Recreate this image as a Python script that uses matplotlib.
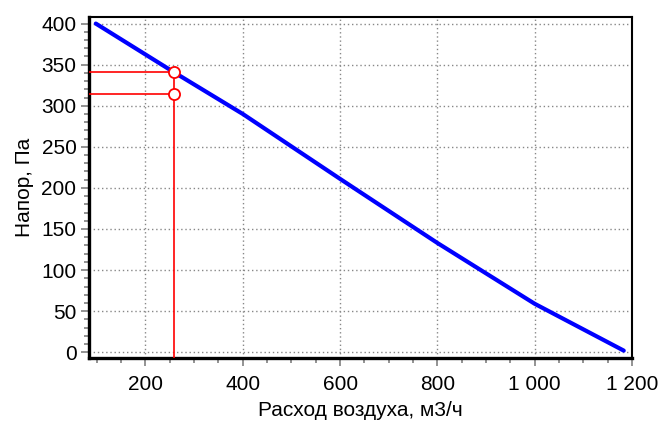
import matplotlib
matplotlib.use("Agg")
import matplotlib.pyplot as plt
from matplotlib.ticker import MultipleLocator, FuncFormatter

plt.rcParams["font.family"] = ["Liberation Sans", "DejaVu Sans"]

# характеристика вентилятора
расход = [98, 258, 400, 600, 800, 1000, 1183]
напор = [400, 341, 290, 211, 133, 59, 2]

# рабочая точка
точка_расход = 258
точка_напор_верх = 341
точка_напор_низ = 314

fig = plt.figure(figsize=(6.58, 4.21), dpi=100)
ax = fig.add_axes([89 / 658, 1 - 358 / 421, (632 - 89) / 658, (358 - 17) / 421])

xmin, xmax = 84, 1200
ymin, ymax = -7, 408
ax.set_xlim(xmin, xmax)
ax.set_ylim(ymin, ymax)

ax.plot(расход, напор, color="#0000ff", linewidth=3, solid_capstyle="round", zorder=3)

# красные линии рабочей точки
red = "#ff0000"
ax.plot([xmin, точка_расход], [точка_напор_верх, точка_напор_верх], color=red, lw=1.2, zorder=4)
ax.plot([xmin, точка_расход], [точка_напор_низ, точка_напор_низ], color=red, lw=1.2, zorder=4)
ax.plot([точка_расход, точка_расход], [ymin, точка_напор_верх], color=red, lw=1.2, zorder=4)
ax.plot([точка_расход, точка_расход], [точка_напор_верх, точка_напор_низ], linestyle="none",
        marker="o", markersize=8, markerfacecolor="white", markeredgecolor=red,
        markeredgewidth=1.3, zorder=5)

ax.xaxis.set_major_locator(MultipleLocator(200))
ax.xaxis.set_minor_locator(MultipleLocator(50))
ax.yaxis.set_major_locator(MultipleLocator(50))
ax.yaxis.set_minor_locator(MultipleLocator(10))
ax.xaxis.set_major_formatter(FuncFormatter(lambda v, p: "{:,.0f}".format(v).replace(",", " ")))

ax.grid(which="major", color="#888888", linestyle=(0, (1, 2)), linewidth=1)
ax.tick_params(which="major", length=6, width=1.2, color="#808080", labelsize=15, pad=3)
ax.tick_params(axis="x", which="major", pad=6)
ax.tick_params(which="minor", length=3.5, width=1.2, color="#808080")

for s in ["left", "bottom"]:
    ax.spines[s].set_linewidth(2.4)
for s in ["top", "right"]:
    ax.spines[s].set_linewidth(1.5)

ax.set_xlabel("Расход воздуха, м3/ч", fontsize=15, labelpad=5)
ax.set_ylabel("Напор, Па", fontsize=15, labelpad=5)

plt.savefig("out.png", dpi=100)
